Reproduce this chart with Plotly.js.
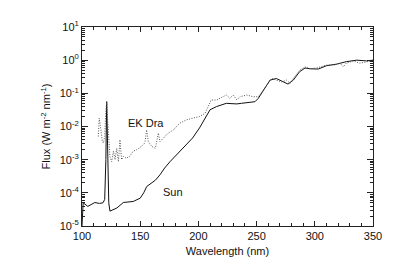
<!DOCTYPE html>
<html><head><meta charset="utf-8">
<script src="https://cdn.plot.ly/plotly-3.0.1.min.js"></script>
<style>body{margin:0;padding:0;background:#fff}#chart{width:399px;height:278px}</style>
</head><body><div id="chart"></div>
<script>
var sunWavelength = [100,101,105,111,115,118,119.5,120.5,121.2,122,123,124,126,130,135.5,140,144,150,153,155.6,160,163,167,171,175.6,180,184,190,195,201,207,210,215.7,220,224,228,233,237,241.5,248.6,251.5,255.8,261.5,267,273,277,281.5,287,291.6,296,303,310,318.8,327,336,344.6,350];
var sunFlux = [1.0e-5,5.0e-5,3.9e-5,5.1e-5,4.8e-5,5.0e-5,6.3e-5,1.0e-3,5.6e-2,1.0e-3,5.0e-5,2.8e-5,3.0e-5,3.5e-5,5.1e-5,5.4e-5,5.5e-5,6.9e-5,1.0e-4,1.55e-4,1.95e-4,2.4e-4,3.5e-4,5.6e-4,8.7e-4,1.26e-3,1.74e-3,2.8e-3,4.5e-3,9.1e-3,2.2e-2,3.2e-2,4.0e-2,4.5e-2,5.0e-2,4.9e-2,4.8e-2,5.0e-2,5.2e-2,5.6e-2,7.1e-2,0.126,0.25,0.28,0.22,0.19,0.25,0.45,0.58,0.55,0.54,0.68,0.76,0.90,1.0,0.95,1.0];
var ekWavelength = [114,114.8,115.5,116.5,117.5,118.5,119.5,120.3,121.2,122,123,124,125.5,127,128.4,129.8,131.3,132.6,134,135.5,138,141,144,147,151,154,155.5,157,160,163,165.6,167,170,174,178.5,181,184,190,195.6,201,205.7,208.5,211,215.7,218.5,221,224,227,230,233,235.7,241.5,247,251.5,255.8,258.7,263,267,271.5,275.8,278.7,281.5,287,291.6,296,301.5,310,317.4,321.7,324.5,327,333,338.8,344.6,350];
var ekFlux = [5.0e-3,1.78e-2,1.26e-2,5.0e-3,3.5e-3,3.2e-3,5.0e-3,2.5e-2,5.6e-2,1.6e-2,2.5e-3,1.26e-3,8.7e-4,1.8e-3,1.0e-3,2.2e-3,8.7e-4,4.0e-3,1.0e-3,1.26e-3,1.1e-3,1.26e-3,1.8e-3,2.0e-3,2.5e-3,3.2e-3,7.9e-3,3.5e-3,2.5e-3,2.2e-3,6.3e-3,3.5e-3,4.5e-3,6.3e-3,7.9e-3,1.0e-2,1.26e-2,1.6e-2,1.78e-2,2.0e-2,2.5e-2,4.0e-2,6.3e-2,6.3e-2,7.1e-2,7.9e-2,8.9e-2,7.1e-2,8.9e-2,6.3e-2,7.9e-2,8.9e-2,7.9e-2,7.9e-2,0.126,0.178,0.28,0.25,0.22,0.25,0.2,0.28,0.5,0.63,0.55,0.58,0.71,0.72,0.81,0.63,0.81,0.95,0.81,0.89,1.0];
var yTickValues = [1e-5, 1e-4, 1e-3, 1e-2, 1e-1, 1, 10];
var yTickLabels = ['10<sup>-5</sup>','10<sup>-4</sup>','10<sup>-3</sup>','10<sup>-2</sup>','10<sup>-1</sup>','10<sup>0</sup>','10<sup>1</sup>'];
var labelSun = 'Sun', labelEK = 'EK Dra';

var yMinor = [];
for (var k = -5; k < 1; k++) { for (var m = 2; m <= 9; m++) { yMinor.push(m * Math.pow(10, k)); } }

var font = {family: 'Liberation Sans, Arial, sans-serif', size: 11, color: '#111'};
var traces = [
  {x: sunWavelength, y: sunFlux, mode: 'lines', line: {color: '#111', width: 1}, hoverinfo: 'skip'},
  {x: ekWavelength, y: ekFlux, mode: 'lines', line: {color: '#555', width: 1, dash: '1px,1.5px'}, hoverinfo: 'skip'}
];
var axisCommon = {showline: true, linecolor: '#222', linewidth: 1, mirror: 'allticks', ticks: 'inside', tickcolor: '#222', showgrid: false, zeroline: false, tickfont: font};
var layout = {
  width: 399, height: 278,
  margin: {l: 82, r: 26, t: 27, b: 52},
  paper_bgcolor: '#fff', plot_bgcolor: '#fff',
  showlegend: false, font: font,
  xaxis: Object.assign({}, axisCommon, {range: [100, 350], dtick: 50, tick0: 100, ticklen: 5,
    minor: {dtick: 10, ticks: 'inside', ticklen: 3, tickcolor: '#222'},
    title: {text: 'Wavelength (nm)', font: font, standoff: 6}}),
  yaxis: Object.assign({}, axisCommon, {type: 'log', range: [-5, 1], tickmode: 'array', tickvals: yTickValues, ticktext: yTickLabels, ticklen: 6,
    minor: {tickmode: 'array', tickvals: yMinor, ticks: 'inside', ticklen: 3, tickcolor: '#222'},
    title: {text: 'Flux (W m<sup>-2</sup> nm<sup>-1</sup>)', font: font, standoff: 6}}),
  annotations: [
    {x: 155, y: -1.89, xref: 'x', yref: 'y', text: labelEK, showarrow: false, font: font},
    {x: 178, y: -3.97, xref: 'x', yref: 'y', text: labelSun, showarrow: false, font: font}
  ]
};
Plotly.newPlot('chart', traces, layout, {staticPlot: true, displayModeBar: false});
</script></body></html>
